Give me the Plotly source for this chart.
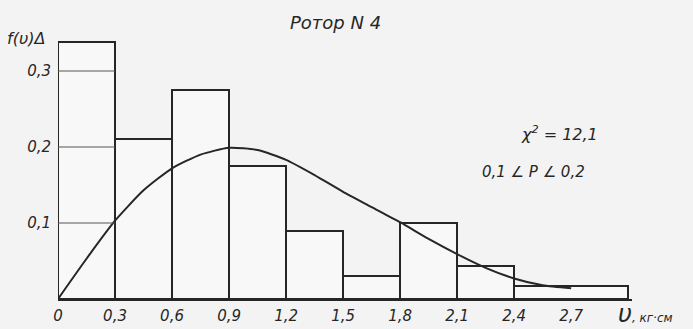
import plotly.graph_objects as go

# ---- data ----
bin_edges = [0.0, 0.3, 0.6, 0.9, 1.2, 1.5, 1.8, 2.1, 2.4, 3.0]
bin_heights = [0.338, 0.21, 0.275, 0.175, 0.09, 0.03, 0.10, 0.044, 0.017]

curve_v = [0.0, 0.15, 0.30, 0.45, 0.60, 0.75, 0.90, 1.05, 1.20, 1.35, 1.50, 1.65, 1.80, 1.95, 2.10, 2.25, 2.40, 2.55, 2.70]
curve_f = [0.0, 0.053, 0.103, 0.143, 0.172, 0.19, 0.199, 0.196, 0.183, 0.163, 0.141, 0.121, 0.101, 0.079, 0.059, 0.041, 0.027, 0.018, 0.014]

x_tick_vals = [0, 0.3, 0.6, 0.9, 1.2, 1.5, 1.8, 2.1, 2.4, 2.7]
x_tick_text = ["0", "0,3", "0,6", "0,9", "1,2", "1,5", "1,8", "2,1", "2,4", "2,7"]
y_tick_vals = [0.1, 0.2, 0.3]
y_tick_text = ["0,1", "0,2", "0,3"]

title_text = "Ротор N 4"
y_label = "f(υ)Δ"
chi_text = "χ<sup>2</sup> = 12,1"
p_text = "0,1 ∠ P ∠ 0,2"

INK = "#262626"
PAPER = "#f3f3f3"
FONT = "DejaVu Sans"

centers = [(a + b) / 2 for a, b in zip(bin_edges[:-1], bin_edges[1:])]
widths = [b - a for a, b in zip(bin_edges[:-1], bin_edges[1:])]

fig = go.Figure()
fig.add_trace(go.Bar(
    x=centers, y=bin_heights, width=widths,
    marker=dict(color="rgba(255,255,255,0.4)", line=dict(color=INK, width=2)),
    showlegend=False, hoverinfo="skip"))
fig.add_trace(go.Scatter(
    x=curve_v, y=curve_f, mode="lines",
    line=dict(color=INK, width=2, shape="spline", smoothing=0.6),
    showlegend=False, hoverinfo="skip"))

# short grid strokes inside the first bin
for yv in y_tick_vals:
    fig.add_shape(type="line", xref="x", yref="y", x0=0, x1=bin_edges[1], y0=yv, y1=yv,
                  line=dict(color="#555555", width=1), layer="above")

fig.update_layout(
    width=693, height=329,
    margin=dict(l=58, r=61, t=33, b=30, autoexpand=False),
    paper_bgcolor=PAPER, plot_bgcolor=PAPER,
    font=dict(family=FONT, color=INK),
    bargap=0,
    xaxis=dict(range=[0, 3.02], showgrid=False, zeroline=False, automargin=False,
               showline=True, linecolor=INK, linewidth=2,
               tickmode="array", tickvals=x_tick_vals, ticktext=x_tick_text,
               tickfont=dict(size=15, family=FONT, style="italic", color=INK),
               ticks="", ticklabelstandoff=2),
    yaxis=dict(range=[0, 0.35], showgrid=False, zeroline=False, showline=False, automargin=False,
               tickmode="array", tickvals=y_tick_vals, ticktext=y_tick_text,
               tickfont=dict(size=15, family=FONT, style="italic", color=INK),
               ticks="", ticklabelstandoff=6),
)

fig.add_annotation(text=title_text, xref="paper", yref="paper", x=0.484, y=1.0, yshift=11,
                   showarrow=False, font=dict(size=18, style="italic", color=INK),
                   xanchor="center", yanchor="middle")
fig.add_annotation(text=y_label, xref="paper", yref="paper", x=-0.093, y=1.0, yshift=-5,
                   showarrow=False, font=dict(size=16, style="italic", color=INK),
                   xanchor="left", yanchor="middle")
fig.add_annotation(text=chi_text, xref="paper", yref="paper", x=0.874, y=0.624,
                   showarrow=False, font=dict(size=16, style="italic", color=INK),
                   xanchor="center", yanchor="middle")
fig.add_annotation(text=p_text, xref="paper", yref="paper", x=0.828, y=0.477,
                   showarrow=False, font=dict(size=15, style="italic", color=INK),
                   xanchor="center", yanchor="middle")
fig.add_annotation(text="υ<span style='font-size:12px'>, кг·см</span>", xref="paper", yref="paper",
                   x=0.972, y=0, yshift=-15,
                   showarrow=False, font=dict(size=24, style="italic", color=INK),
                   xanchor="left", yanchor="middle")

fig.write_html("out.html",
               config={"displayModeBar": False},
               post_script="document.body.style.margin='0';document.body.style.background='%s';" % PAPER)
